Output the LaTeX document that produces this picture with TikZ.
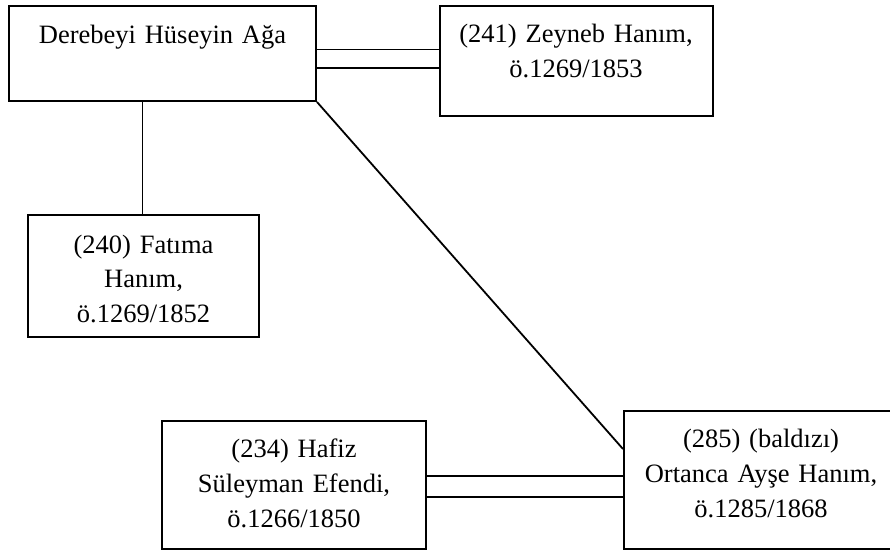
\documentclass[tikz,border=0pt]{standalone}
\usepackage{fontspec}
\setmainfont{Liberation Serif}
\usetikzlibrary{calc}

\tikzset{
  person/.style={draw, line width=2pt, inner sep=0pt, align=center, anchor=north west,
    font=\fontsize{26.5}{34.8}\selectfont},
  link/.style={line width=1.8pt}
}

\begin{document}
\begin{tikzpicture}[x=1pt,y=-1pt]
            \useasboundingbox (0,0) rectangle (890,549);% Fix page size

            \node[person, text width=307pt, text height=37pt, text depth=58pt]   (huseyin) at (8,5)     {Derebeyi Hüseyin Ağa};
            \node[person, text width=273pt, text height=36.7pt, text depth=73.3pt] (zeyneb) at (438.5,5) {(241) Zeyneb Hanım,\\ö.1269/1853};
            \node[person, text width=231pt, text height=38pt, text depth=84pt]   (fatima) at (27,214)   {(240) Fatıma\\Hanım,\\ö.1269/1852};
            \node[person, text width=264pt, text height=36.7pt, text depth=91.3pt] (hafiz) at (161,420)  {(234) Hafiz\\Süleyman Efendi,\\ö.1266/1850};
            \node[person, text width=274pt, text height=36.7pt, text depth=101.3pt] (ayse) at (623,410)  {(285) (baldızı)\\Ortanca Ayşe Hanım,\\ö.1285/1868};

            \draw[link] ([yshift=4pt]huseyin.east) -- ([yshift=4pt]huseyin.east -| zeyneb.west);% Marriage, upper line
            \draw[link] ([yshift=-14.5pt]huseyin.east) -- ([yshift=-14.5pt]huseyin.east -| zeyneb.west);% Marriage, lower line
            \draw[link] ([xshift=-1pt]fatima.north) -- ([xshift=-1pt]fatima.north |- huseyin.south);% Child
            \draw[link] (huseyin.south east) -- ([yshift=31pt]ayse.west);% Sister-in-law
            \draw[link] ([yshift=9pt]hafiz.east) -- ([yshift=9pt]hafiz.east -| ayse.west);% Marriage, upper line
            \draw[link] ([yshift=-12pt]hafiz.east) -- ([yshift=-12pt]hafiz.east -| ayse.west);% Marriage, lower line
        \end{tikzpicture}
\end{document}
